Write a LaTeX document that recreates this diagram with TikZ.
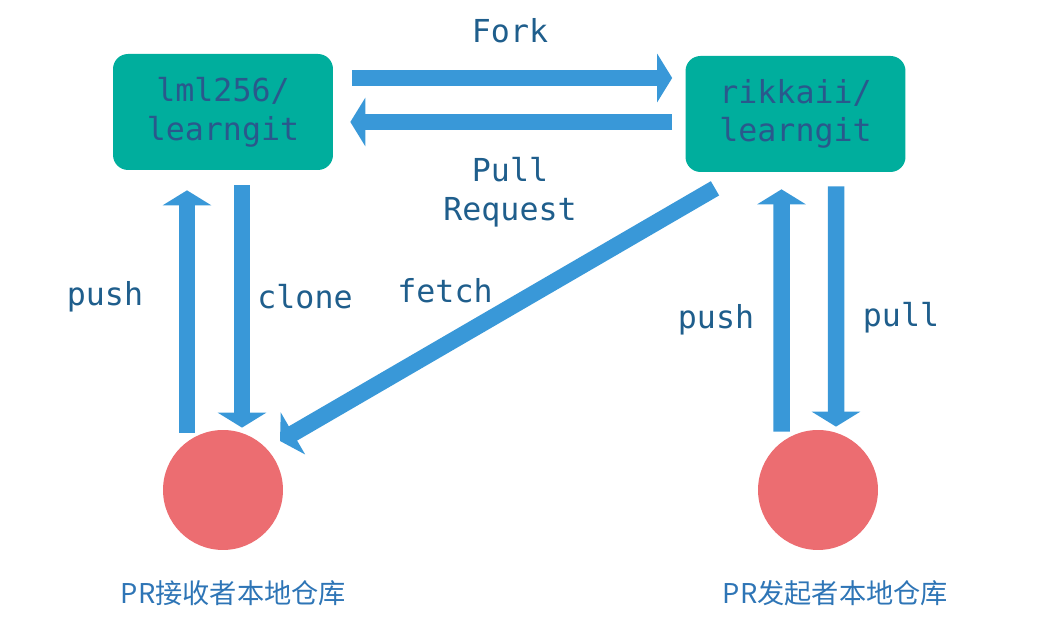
\documentclass[tikz,border=0pt]{standalone}
\usepackage{fontspec}
\setmonofont{DejaVu Sans Mono}
\newfontfamily\cjk{Noto Sans CJK SC}
\usetikzlibrary{arrows.meta}
\definecolor{repoteal}{RGB}{0,174,157}
\definecolor{repotext}{RGB}{42,88,140}
\definecolor{labeltext}{RGB}{31,94,140}
\definecolor{flowblue}{RGB}{57,152,216}
\definecolor{localred}{RGB}{236,109,113}
\definecolor{cjktext}{RGB}{46,117,182}
\begin{document}
\begin{tikzpicture}[x=0.02cm,y=0.02cm,line join=miter,font=\ttfamily\fontsize{18}{22}\selectfont]
    \tikzset{repo/.style={rectangle,rounded corners=0.3cm,fill=repoteal,text=repotext,align=center,minimum width=4.4cm,minimum height=2.32cm,inner sep=0pt},
        local/.style={circle,fill=localred,minimum size=2.4cm,inner sep=0pt},
        flow/.style={draw=flowblue,line width=0.33cm,-{Triangle[length=0.3cm,width=0.96cm]}},
        lbl/.style={text=labeltext,align=center}}
    \useasboundingbox (0,0) rectangle (1062,641);
    % repositories
    \node[repo] (lml) at (223,529) {lml256/\\learngit};
    \node[repo] (rik) at (795.5,527) {rikkaii/\\learngit};
    \node[local] (recv) at (223,151) {};
    \node[local] (send) at (818,151) {};
    % arrows
    \draw[flow] ([shift={(19,34)}]lml.east) -- ([shift={(-13,36)}]rik.west);
    \draw[flow] ([shift={(-13,-8)}]rik.west) -- ([shift={(17,-10)}]lml.east);
    \draw[flow] ([shift={(-36,-3)}]recv.north) -- ([shift={(-36,-20)}]lml.south);
    \draw[flow] ([shift={(19,-15)}]lml.south) -- ([shift={(19,2)}]recv.north);
    \draw[flow] ([shift={(-80.5,-16)}]rik.south) -- ([shift={(57,49)}]recv.center);
    \draw[flow] ([shift={(-36.5,-2)}]send.north) -- ([shift={(-14,-17)}]rik.south);
    \draw[flow] ([shift={(40.5,-14)}]rik.south) -- ([shift={(18,3)}]send.north);
    % labels
    \node[lbl] (fork) at (510,610) {Fork};
    \node[lbl] (pr) at (510,449) {Pull\\Request};
    \node[lbl] (pushl) at (105,344) {push};
    \node[lbl] (clone) at (305,344) {clone};
    \node[lbl] (fetch) at (445,350) {fetch};
    \node[lbl] (pushr) at (716,321) {push};
    \node[lbl] (pull) at (901,323) {pull};
    \node[text=cjktext,font=\cjk\fontsize{15.5}{19}\selectfont] (recvname) at (233.5,48) {PR接收者本地仓库};
    \node[text=cjktext,font=\cjk\fontsize{15.5}{19}\selectfont] (sendname) at (835.5,48) {PR发起者本地仓库};
\end{tikzpicture}
\end{document}
